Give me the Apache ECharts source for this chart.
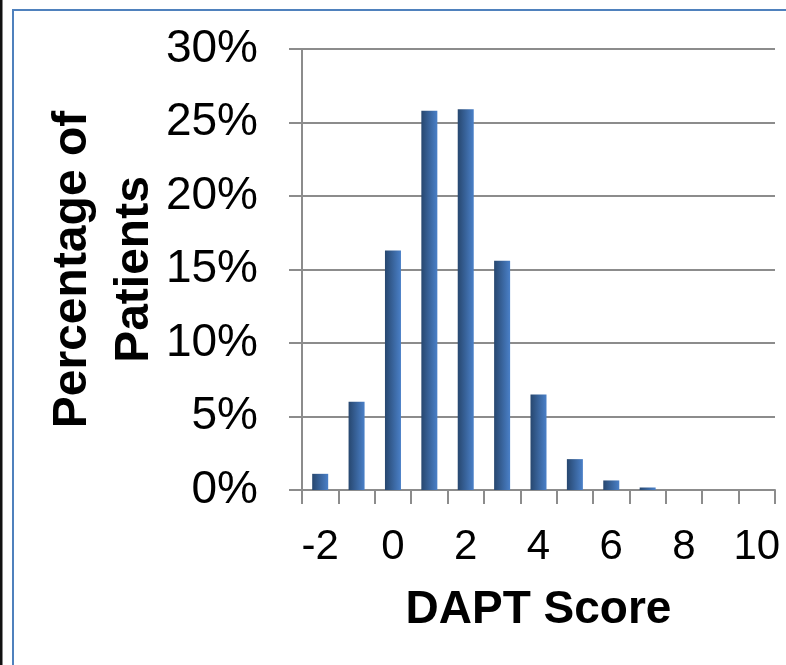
<!DOCTYPE html>
<html>
<head>
<meta charset="utf-8">
<script src="https://cdn.jsdelivr.net/npm/echarts@6/dist/echarts.min.js"></script>
<style>
html,body{margin:0;padding:0;background:#fff;}
#c{width:786px;height:665px;}
</style>
</head>
<body>
<div id="c"></div>
<script>
const categories = ['-2','-1','0','1','2','3','4','5','6','7','8','9','10'];
const percentOfPatients = [1.1, 6.0, 16.3, 25.8, 25.9, 15.6, 6.5, 2.1, 0.65, 0.17, 0, 0, 0];
const yTicks = { min: 0, max: 30, interval: 5 };

const FONT = 'Arial, "Liberation Sans", sans-serif';
const chart = echarts.init(document.getElementById('c'), null, {renderer: 'canvas'});
chart.setOption({
  animation: false,
  backgroundColor: '#fff',
  graphic: [
    { type: 'rect', shape: { x: 0, y: 0, width: 2.5, height: 665 }, style: { fill: '#111' }, z: 100 },
    { type: 'rect', shape: { x: 13, y: 10, width: 800, height: 700 }, style: { fill: 'none', stroke: '#4f81bd', lineWidth: 2 }, z: 100 }
  ],
  grid: { left: 302, right: 11, top: 49, bottom: 175, containLabel: false },
  xAxis: {
    type: 'category',
    data: categories,
    boundaryGap: true,
    name: 'DAPT Score',
    nameLocation: 'middle',
    nameGap: 97,
    nameMoveOverlap: false,
    nameTextStyle: { fontFamily: FONT, fontSize: 46, fontWeight: 'bold', color: '#000' },
    axisLine: { lineStyle: { color: '#8c8c8c', width: 2 } },
    axisTick: { show: true, interval: 0, length: 14, lineStyle: { color: '#8c8c8c', width: 2 } },
    axisLabel: { interval: 1, margin: 36, fontFamily: FONT, fontSize: 42, color: '#000' },
    splitLine: { show: false }
  },
  yAxis: {
    type: 'value',
    min: yTicks.min, max: yTicks.max, interval: yTicks.interval,
    name: 'Percentage of\nPatients',
    nameLocation: 'middle',
    nameRotate: 90,
    nameGap: 136,
    nameMoveOverlap: false,
    nameTextStyle: { fontFamily: FONT, fontSize: 48, fontWeight: 'bold', color: '#000', lineHeight: 62 },
    axisLine: { show: true, lineStyle: { color: '#8c8c8c', width: 2 } },
    axisTick: { show: true, length: 13, lineStyle: { color: '#8c8c8c', width: 2 } },
    axisLabel: { margin: 44, fontFamily: FONT, fontSize: 46, color: '#000', formatter: '{value}%' },
    splitLine: { show: true, lineStyle: { color: '#8c8c8c', width: 2 } }
  },
  series: [{
    type: 'bar',
    data: percentOfPatients,
    barWidth: 16,
    itemStyle: {
      color: new echarts.graphic.LinearGradient(0, 0, 1, 0, [
        { offset: 0, color: '#27476f' },
        { offset: 1, color: '#4a80c8' }
      ])
    }
  }]
});
</script>
</body>
</html>
